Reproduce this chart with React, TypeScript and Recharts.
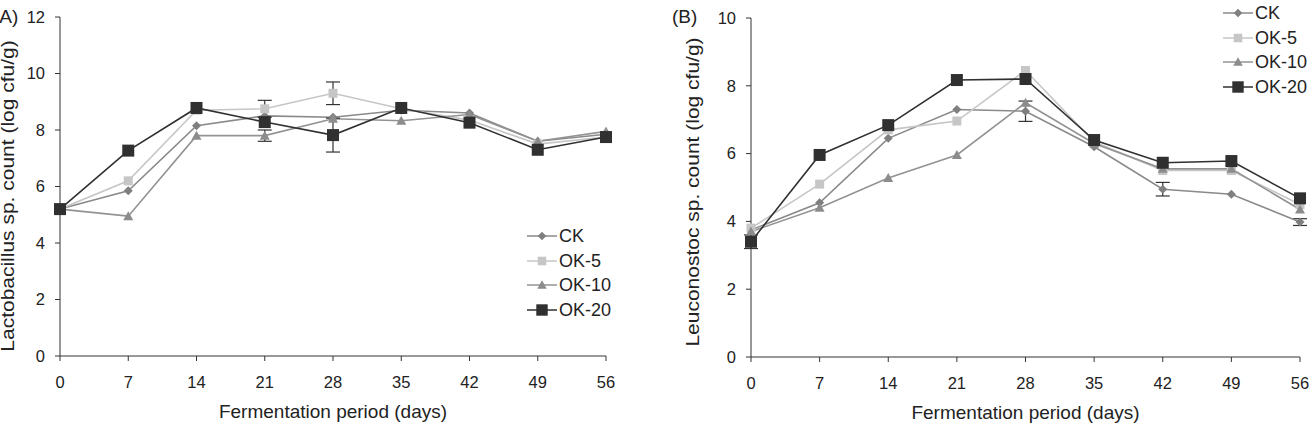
import { LineChart, Line, XAxis, YAxis, Legend, ErrorBar, Label } from "recharts";

// fermentation days
const days = [0, 7, 14, 21, 28, 35, 42, 49, 56];

// (A) Lactobacillus sp. count (log cfu/g)
const aCK = [5.2, 5.85, 8.15, 8.5, 8.45, 8.7, 8.6, 7.6, 7.85];
const aOK5 = [5.2, 6.2, 8.7, 8.75, 9.3, 8.75, 8.35, 7.5, 7.75];
const aOK10 = [5.2, 4.95, 7.8, 7.8, 8.4, 8.33, 8.55, 7.6, 7.95];
const aOK20 = [5.2, 7.27, 8.78, 8.28, 7.82, 8.78, 8.26, 7.3, 7.75];
const aOK5Err = [0, 0, 0, 0.3, 0.4, 0, 0, 0, 0];
const aOK10Err = [0, 0, 0, 0.2, 0, 0, 0, 0, 0];
const aOK20Err = [0, 0, 0, 0, 0.6, 0, 0, 0, 0];

// (B) Leuconostoc sp. count (log cfu/g)
const bCK = [3.75, 4.55, 6.45, 7.3, 7.25, 6.2, 4.95, 4.8, 3.98];
const bOK5 = [3.8, 5.1, 6.7, 6.96, 8.45, 6.35, 5.5, 5.5, 4.5];
const bOK10 = [3.7, 4.4, 5.28, 5.96, 7.5, 6.3, 5.55, 5.55, 4.35];
const bOK20 = [3.4, 5.96, 6.84, 8.17, 8.2, 6.4, 5.73, 5.78, 4.68];
const bCKErr = [0, 0, 0, 0, 0.3, 0, 0.2, 0, 0.1];
const bOK20Err = [0.2, 0, 0, 0, 0, 0, 0, 0, 0];

const aTicks = [0, 2, 4, 6, 8, 10, 12];
const bTicks = [0, 2, 4, 6, 8, 10];

const FONT = '"Liberation Sans", Arial, sans-serif';
const TXT = "#222";
const AXIS = "#333";

type Shape = "diamond" | "square" | "triangle";

const series = [
  { key: "ck", name: "CK", shape: "diamond" as Shape, size: 4.5, fill: "#7f7f7f", stroke: "#8a8a8a" },
  { key: "ok5", name: "OK-5", shape: "square" as Shape, size: 4.5, fill: "#c6c6c6", stroke: "#c6c6c6" },
  { key: "ok10", name: "OK-10", shape: "triangle" as Shape, size: 5, fill: "#8c8c8c", stroke: "#939393" },
  { key: "ok20", name: "OK-20", shape: "square" as Shape, size: 6, fill: "#303030", stroke: "#303030" },
];

function marker(shape: Shape, cx: number, cy: number, s: number, fill: string, key?: any) {
  if (shape === "diamond")
    return <polygon key={key} points={`${cx},${cy - s} ${cx + s},${cy} ${cx},${cy + s} ${cx - s},${cy}`} fill={fill} />;
  if (shape === "triangle")
    return <polygon key={key} points={`${cx},${cy - s} ${cx + s},${cy + s * 0.8} ${cx - s},${cy + s * 0.8}`} fill={fill} />;
  return <rect key={key} x={cx - s} y={cy - s} width={s * 2} height={s * 2} fill={fill} />;
}

const dotFor = (s: (typeof series)[number]) => (p: any) => marker(s.shape, p.cx, p.cy, s.size, s.fill, p.index);

const LegendBox = () => (
  <div style={{ fontFamily: FONT, fontSize: 18, color: TXT, lineHeight: "20px" }}>
    {series.map((s) => (
      <div key={s.key} style={{ display: "flex", alignItems: "center", height: 24.5 }}>
        <svg width={30} height={16} style={{ marginRight: 2 }}>
          <line x1={0} y1={8} x2={30} y2={8} stroke={s.stroke} strokeWidth={1.5} />
          {marker(s.shape, 15, 8, s.size * 0.95, s.fill)}
        </svg>
        <span>{s.name}</span>
      </div>
    ))}
  </div>
);

// vertical axis title, stretched along its length like the source figure
const yTitle = (text: string, x: number, y: number) => () => (
  <text transform={`translate(${x},${y}) rotate(-90) scale(1.2,1)`} textAnchor="middle" dominantBaseline="central"
    fill={TXT} fontSize={17.5} fontFamily={FONT}>{text}</text>
);

const tableA = days.map((d, i) => ({
  day: d, ck: aCK[i], ok5: aOK5[i], ok10: aOK10[i], ok20: aOK20[i],
  ok5Err: aOK5Err[i], ok10Err: aOK10Err[i], ok20Err: aOK20Err[i],
}));

const tableB = days.map((d, i) => ({
  day: d, ck: bCK[i], ok5: bOK5[i], ok10: bOK10[i], ok20: bOK20[i],
  ckErr: bCKErr[i], ok20Err: bOK20Err[i],
}));

function Panel(props: {
  data: any[]; width: number; yWidth: number; right: number; top: number; bottom: number;
  max: number; ticks: number[]; yLabel: string; lx: number; ly: number; legend: any;
  errs: Record<string, string>;
}) {
  const tick = { fill: TXT, fontSize: 16.5, fontFamily: FONT };
  return (
    <LineChart width={props.width} height={427} data={props.data}
      margin={{ top: props.top, right: props.right, bottom: props.bottom, left: 0 }}>
      <XAxis dataKey="day" type="number" domain={[0, 56]} ticks={days} interval={0}
        height={65} tickSize={5} tickMargin={15} tick={tick} stroke={AXIS}
        label={{ value: "Fermentation period (days)", position: "insideBottom", offset: 3, fill: TXT, fontSize: 19, fontFamily: FONT }} />
      <YAxis type="number" domain={[0, props.max]} ticks={props.ticks} interval={0}
        width={props.yWidth} tickSize={5} tickMargin={10} tick={tick} stroke={AXIS}>
        <Label content={yTitle(props.yLabel, props.lx, props.ly)} />
      </YAxis>
      <Legend layout="vertical" verticalAlign="top" content={() => <LegendBox />}
        wrapperStyle={{ ...props.legend, height: 0, overflow: "visible" }} />
      {series.map((s) => (
        <Line key={s.key} dataKey={s.key} name={s.name} type="linear" stroke={s.stroke}
          strokeWidth={1.6} dot={dotFor(s)} activeDot={false} isAnimationActive={false}>
          {props.errs[s.key] ? (
            <ErrorBar dataKey={props.errs[s.key]} direction="y" width={7} stroke={AXIS} strokeWidth={1.2} />
          ) : null}
        </Line>
      ))}
    </LineChart>
  );
}

export default function App() {
  return (
    <div style={{ position: "absolute", left: 0, top: 0, width: 1315, height: 427, background: "#fff", overflow: "hidden", fontFamily: FONT }}>
      <div style={{ position: "absolute", left: 0, top: 0 }}>
        <Panel data={tableA} width={640} yWidth={60} right={34} top={17} bottom={6} max={12} ticks={aTicks}
          yLabel="Lactobacillus sp. count (log cfu/g)" lx={8} ly={196}
          legend={{ position: "absolute", left: 527, top: 224, width: 100 }}
          errs={{ ok5: "ok5Err", ok10: "ok10Err", ok20: "ok20Err" }} />
      </div>
      <div style={{ position: "absolute", left: 655, top: 0 }}>
        <Panel data={tableB} width={660} yWidth={96} right={15} top={18} bottom={5} max={10} ticks={bTicks}
          yLabel="Leuconostoc sp. count (log cfu/g)" lx={38} ly={192}
          legend={{ position: "absolute", left: 568, top: 1, width: 92 }}
          errs={{ ck: "ckErr", ok20: "ok20Err" }} />
      </div>
      <div style={{ position: "absolute", left: -7, top: 6, fontSize: 19, color: TXT }}>(A)</div>
      <div style={{ position: "absolute", left: 672, top: 6, fontSize: 19, color: TXT }}>(B)</div>
    </div>
  );
}
